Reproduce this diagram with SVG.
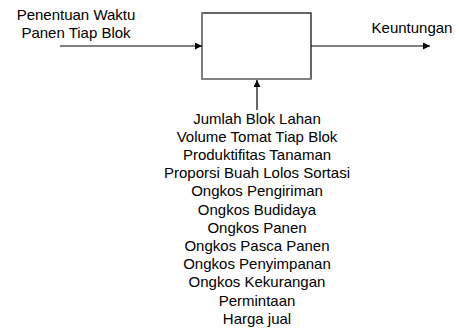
<svg xmlns="http://www.w3.org/2000/svg" width="459" height="332" viewBox="0 0 459 332">
<defs>
<style>
text{font-family:"Liberation Sans",Arial,sans-serif;font-size:15px;fill:#000;text-anchor:middle}
.ln{stroke:#000;stroke-width:1.2;fill:none}
</style>
<marker id="ah" viewBox="0 0 10 10" refX="10" refY="5" markerWidth="8" markerHeight="7" markerUnits="userSpaceOnUse" orient="auto">
<path d="M0,0 L10,5 L0,10 Z" fill="#000"/>
</marker>
</defs>
<rect width="459" height="332" fill="#fff"/>
<g id="process">
<rect x="202" y="13" width="109" height="66" fill="#fff" stroke="#000" stroke-width="1.2"/>
<path d="M202,13 V79 H311" stroke="#808080" stroke-width="1.8" fill="none"/>
</g>
<g id="connectors">
<line class="ln" x1="60" y1="46" x2="202" y2="46" marker-end="url(#ah)"/>
<line class="ln" x1="311" y1="46" x2="430" y2="46" marker-end="url(#ah)"/>
<line class="ln" x1="257" y1="110" x2="257" y2="80" marker-end="url(#ah)"/>
</g>
<g id="input">
<text x="76" y="20">Penentuan Waktu</text>
<text x="76" y="38">Panen Tiap Blok</text>
</g>
<g id="output">
<text x="412" y="33">Keuntungan</text>
</g>
<g id="controls">
<text x="257" y="124">Jumlah Blok Lahan</text>
<text x="257" y="142">Volume Tomat Tiap Blok</text>
<text x="257" y="160">Produktifitas Tanaman</text>
<text x="257" y="178">Proporsi Buah Lolos Sortasi</text>
<text x="257" y="196">Ongkos Pengiriman</text>
<text x="257" y="215">Ongkos Budidaya</text>
<text x="257" y="233">Ongkos Panen</text>
<text x="257" y="251">Ongkos Pasca Panen</text>
<text x="257" y="269">Ongkos Penyimpanan</text>
<text x="257" y="287">Ongkos Kekurangan</text>
<text x="257" y="306">Permintaan</text>
<text x="257" y="324">Harga jual</text>
</g>
</svg>
